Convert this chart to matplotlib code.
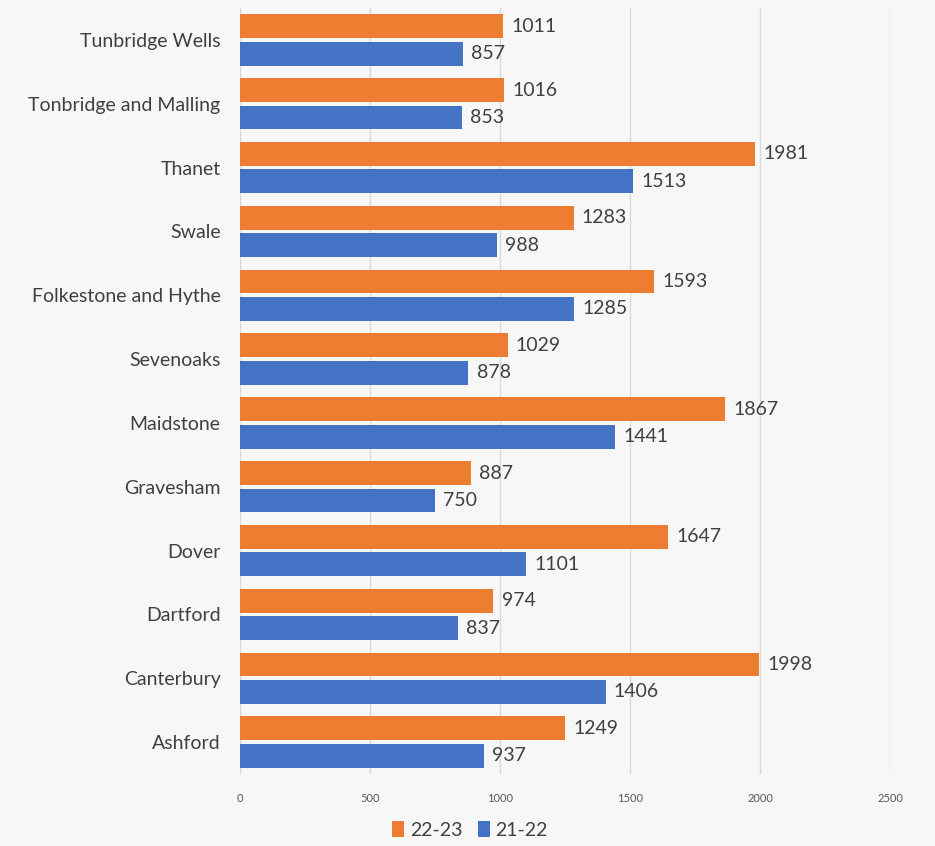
import numpy as np
import matplotlib.pyplot as plt

# data (top to bottom as in the chart)
districts = ["Tunbridge Wells", "Tonbridge and Malling", "Thanet", "Swale",
             "Folkestone and Hythe", "Sevenoaks", "Maidstone", "Gravesham",
             "Dover", "Dartford", "Canterbury", "Ashford"]
v2223 = [1011, 1016, 1981, 1283, 1593, 1029, 1867, 887, 1647, 974, 1998, 1249]
v2122 = [857, 853, 1513, 988, 1285, 878, 1441, 750, 1101, 837, 1406, 937]
xticks = [0, 500, 1000, 1500, 2000, 2500]

orange = "#ED7D31"
blue = "#4472C4"
txt = "#404040"
bg = "#F7F7F7"

plt.rcParams['font.family'] = ['Lato', 'DejaVu Sans']

fig = plt.figure(figsize=(9.35, 8.46), dpi=100, facecolor=bg)
ax = fig.add_axes([240/935, 1 - 774/846, 650/935, 766/846], facecolor=bg)

n = len(districts)
y = np.arange(n)[::-1]
h = 0.375
off = 0.215

b1 = ax.barh(y + off, v2223, height=h, color=orange, label="22-23", zorder=3)
b2 = ax.barh(y - off, v2122, height=h, color=blue, label="21-22", zorder=3)

for bars, vals in ((b1, v2223), (b2, v2122)):
    for rect, v in zip(bars, vals):
        ax.annotate(str(v), (rect.get_width(), rect.get_y() + rect.get_height() / 2),
                    xytext=(6, 0), textcoords="offset points", va="center", ha="left",
                    fontsize=14, color=txt)

ax.set_xlim(0, 2500)
ax.set_ylim(-0.5, n - 0.5)
ax.set_xticks(xticks)
ax.set_xticklabels([str(t) for t in xticks], fontsize=8, color="#595959")
ax.set_yticks(y)
ax.set_yticklabels(districts, fontsize=14, color=txt)
ax.tick_params(axis="both", length=0)
ax.tick_params(axis="x", pad=14)
ax.tick_params(axis="y", pad=14)
ax.grid(axis="x", color="#D9D9D9", linewidth=1, zorder=0)
for s in ["top", "right", "bottom"]:
    ax.spines[s].set_visible(False)
ax.spines["left"].set_color("#D9D9D9")

leg = fig.legend(handles=[b1, b2], loc="center", bbox_to_anchor=(470/935, 1 - 830/846),
                 ncol=2, frameon=False, fontsize=14, handlelength=0.6, handleheight=0.9,
                 handletextpad=0.3, columnspacing=0.8)
for t in leg.get_texts():
    t.set_color(txt)

fig.savefig("out.png", dpi=100, facecolor=bg)
